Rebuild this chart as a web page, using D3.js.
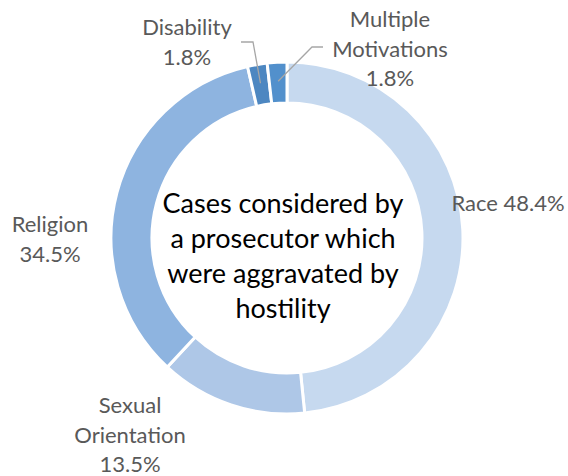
<!DOCTYPE html>
<html>
<head>
<meta charset="utf-8">
<script src="https://cdn.jsdelivr.net/npm/d3@7"></script>
<style>
  body { margin: 0; background: #fff; }
  text { font-family: Lato, "Open Sans", sans-serif; }
</style>
</head>
<body>
<div id="chart"></div>
<script>
const categories = ["Race", "Sexual Orientation", "Religion", "Disability", "Multiple Motivations"];
const shares = [48.4, 13.5, 34.5, 1.8, 1.8];
const colors = ["#c6d9ef", "#aec7e7", "#8eb4e0", "#4d87c1", "#5290cc"];
const centerTitle = ["Cases considered by", "a prosecutor which", "were aggravated by", "hostility"];

// label lines + anchor spots (chart coords)
const labelLines = [
  ["Race 48.4%"],
  ["Sexual", "Orientation", "13.5%"],
  ["Religion", "34.5%"],
  ["Disability", "1.8%"],
  ["Multiple", "Motivations", "1.8%"]
];
const labelPos = [[508, 211], [130, 413], [50, 232], [187, 35], [390, 27]];

const W = 568, H = 476;
const cx = 287, cy = 238, outerR = 176, innerR = 135;

const svg = d3.select("#chart").append("svg")
    .attr("width", W)
    .attr("height", H);

const data = categories.map((c, i) => ({ name: c, value: shares[i], i }));

const pie = d3.pie().value(d => d.value).sort(null);
const arc = d3.arc().innerRadius(innerR).outerRadius(outerR);
const arcs = pie(data);

const g = svg.append("g").attr("transform", `translate(${cx},${cy})`);

g.selectAll("path")
    .data(arcs)
    .enter().append("path")
    .attr("d", arc)
    .attr("fill", d => colors[d.data.i])
    .attr("stroke", "#fff")
    .attr("stroke-width", 3);

// leader lines for the two thin slices
const midArc = d3.arc().innerRadius(157).outerRadius(157);
const leaders = [
  { i: 3, end: [241, 42], elbow: [253, 42] },
  { i: 4, end: [323, 47], elbow: [312, 47] }
];
leaders.forEach(l => {
  const c = midArc.centroid(arcs[l.i]);
  svg.append("polyline")
      .attr("points", [[l.end[0], l.end[1]], [l.elbow[0], l.elbow[1]], [cx + c[0], cy + c[1]]].map(p => p.join(",")).join(" "))
      .attr("fill", "none")
      .attr("stroke", "#a6a6a6")
      .attr("stroke-width", 1.3);
});

// data labels
labelLines.forEach((lines, i) => {
  const t = svg.append("text")
      .attr("x", labelPos[i][0])
      .attr("y", labelPos[i][1])
      .attr("text-anchor", "middle")
      .style("font-size", "22px")
      .style("fill", "#595959");
  lines.forEach((s, k) => {
    t.append("tspan")
        .attr("x", labelPos[i][0])
        .attr("dy", k === 0 ? 0 : 29.5)
        .text(s);
  });
});

// centre title
const title = svg.append("text")
    .attr("x", 283)
    .attr("y", 213)
    .attr("text-anchor", "middle")
    .style("font-size", "27px")
    .style("fill", "#000");
centerTitle.forEach((s, k) => {
  title.append("tspan")
      .attr("x", 283)
      .attr("dy", k === 0 ? 0 : 35)
      .text(s);
});
</script>
</body>
</html>
